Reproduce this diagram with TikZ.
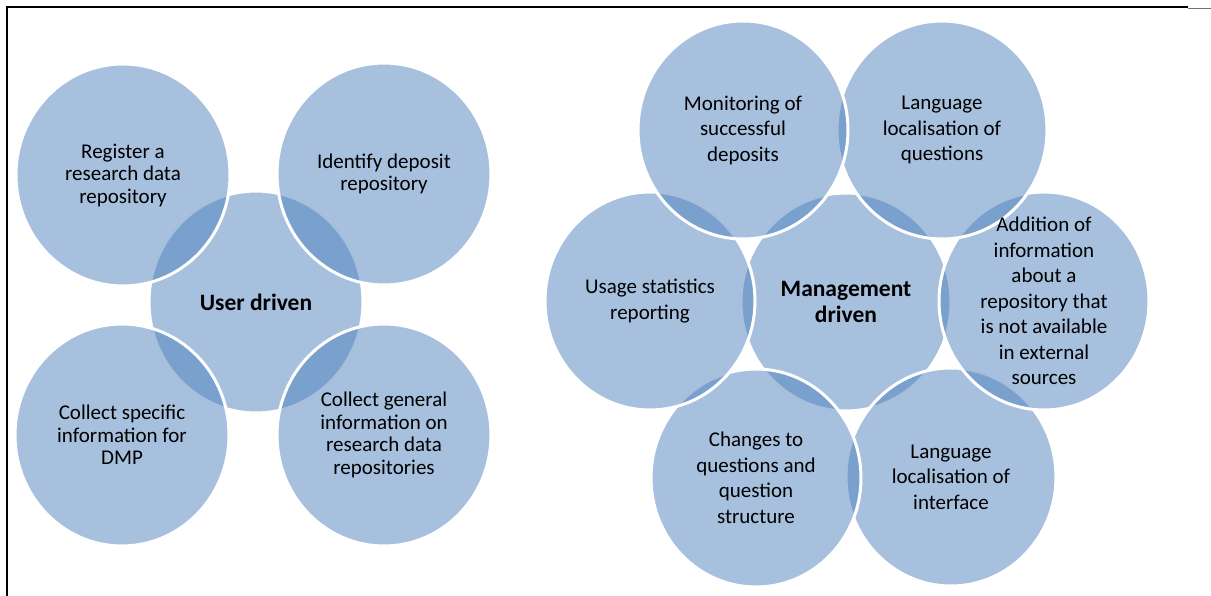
\documentclass[tikz,border=0pt]{standalone}
\usepackage{fontspec}
\setmainfont{Carlito}
\definecolor{venn}{HTML}{4F81BD}

\begin{document}
\begin{tikzpicture}[x=1pt,y=-1pt,
  bubble/.style={fill=venn, fill opacity=0.5, draw=white, line width=3pt},
  ltxt/.style={align=center, font=\fontsize{21}{22.5}\selectfont},
  rtxt/.style={align=center, font=\fontsize{21}{25.5}\selectfont},
  hub/.style={align=center, font=\bfseries\fontsize{23.5}{25.5}\selectfont}]
\useasboundingbox (0,0) rectangle (1211,596);
\draw[line width=2pt] (7,596)--(7,7)--(1188,7);
\draw[line width=1.5pt, black!55] (1188,8.5)--(1211,8.5);

% user driven group
\coordinate (user) at (256,302);
\coordinate (reg) at (123,175);
\coordinate (ident) at (384,174);
\coordinate (spec) at (122,435);
\coordinate (gen) at (384,435);
\draw[bubble] (user) ellipse (107 and 111);
\draw[bubble] (reg) ellipse (107 and 111);
\draw[bubble] (ident) ellipse (107 and 111);
\draw[bubble] (spec) ellipse (107 and 111);
\draw[bubble] (gen) ellipse (107 and 111);
\node[hub] (userlbl) at (user) {User driven};
\node[ltxt] (reglbl) at (reg) {Register a\\research data\\repository};
\node[ltxt] (identlbl) at (ident) {Identify deposit\\repository};
\node[ltxt] (speclbl) at (spec) {Collect specific\\information for\\DMP};
\node[ltxt] (genlbl) at (gen) {Collect general\\information on\\research data\\repositories};

% management driven group
\coordinate (mgmt) at (846,302);
\coordinate (mon) at (743,130);
\coordinate (langq) at (942,130);
\coordinate (usage) at (650,301);
\coordinate (addn) at (1044,301);
\coordinate (chg) at (756,478);
\coordinate (langi) at (951,477);
\draw[bubble] (mgmt) ellipse (105 and 109);
\draw[bubble] (langi) ellipse (105 and 109);
\draw[bubble] (chg) ellipse (105 and 109);
\draw[bubble] (usage) ellipse (105 and 109);
\draw[bubble] (addn) ellipse (105 and 109);
\draw[bubble] (langq) ellipse (105 and 109);
\draw[bubble] (mon) ellipse (105 and 109);
\node[hub] (mgmtlbl) at (mgmt) {Management\\driven};
\node[rtxt] (monlbl) at (mon) {Monitoring of\\successful\\deposits};
\node[rtxt] (langqlbl) at (langq) {Language\\localisation of\\questions};
\node[rtxt] (usagelbl) at (usage) {Usage statistics\\reporting};
\node[rtxt] (addnlbl) at (addn) {Addition of\\information\\about a\\repository that\\is not available\\in external\\sources};
\node[rtxt] (chglbl) at (chg) {Changes to\\questions and\\question\\structure};
\node[rtxt] (langilbl) at (langi) {Language\\localisation of\\interface};
\end{tikzpicture}
\end{document}
